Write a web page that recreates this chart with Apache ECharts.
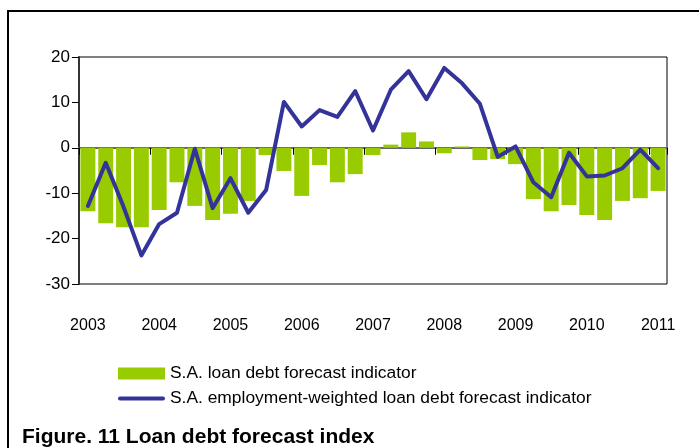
<!DOCTYPE html>
<html><head><meta charset="utf-8">
<script src="https://cdn.jsdelivr.net/npm/echarts@6/dist/echarts.min.js"></script>
<style>html,body{margin:0;padding:0;background:#fff}#c{width:699px;height:448px}</style>
</head><body><div id="c"></div>
<script>
var categories = ['2003Q1','2003Q2','2003Q3','2003Q4','2004Q1','2004Q2','2004Q3','2004Q4',
 '2005Q1','2005Q2','2005Q3','2005Q4','2006Q1','2006Q2','2006Q3','2006Q4',
 '2007Q1','2007Q2','2007Q3','2007Q4','2008Q1','2008Q2','2008Q3','2008Q4',
 '2009Q1','2009Q2','2009Q3','2009Q4','2010Q1','2010Q2','2010Q3','2010Q4','2011Q1'];
var loanDebt = [-14, -16.6, -17.5, -17.5, -13.7, -7.6, -12.8, -15.9,
 -14.5, -11.7, -1.6, -5.1, -10.6, -3.8, -7.6, -5.8,
 -1.6, 0.7, 3.4, 1.4, -1.2, 0.3, -2.7, -2.5,
 -3.6, -11.3, -14.0, -12.6, -14.8, -15.9, -11.7, -11.1, -9.5];
var employmentWeighted = [-12.8, -3.3, -13, -23.7, -16.8, -14.3, -0.2, -13.3,
 -6.7, -14.3, -9.3, 10.1, 4.7, 8.3, 6.8, 12.5,
 3.8, 12.8, 16.9, 10.7, 17.6, 14.2, 9.7, -2.0,
 0.3, -7.6, -10.9, -1.1, -6.3, -6.1, -4.5, -0.4, -4.5];
var yTicks = [-30, -20, -10, 0, 10, 20];
var seriesNames = ['S.A. loan debt forecast indicator', 'S.A. employment-weighted loan debt forecast indicator'];
var caption = 'Figure. 11 Loan debt forecast index';

var chart = echarts.init(document.getElementById('c'), null, {renderer:'canvas'});
chart.setOption({
  animation: false,
  backgroundColor: '#fff',
  grid: {left: 79, right: 32, top: 57, bottom: 164, show: true, borderColor: '#000', borderWidth: 1, backgroundColor: 'transparent'},
  legend: {
    orient: 'vertical', left: 118, top: 365, padding: 0, itemWidth: 47, itemHeight: 12, itemGap: 8,
    symbolKeepAspect: false,
    textStyle: {fontFamily: 'Liberation Sans', fontSize: 17.4, color: '#000'},
    data: [
      {name: seriesNames[0], icon: 'rect'},
      {name: seriesNames[1], icon: 'path://M0,0 M47,12 M2,4 L45,4 A2,2 0 0 1 45,8 L2,8 A2,2 0 0 1 2,4 Z',
       itemStyle: {color: '#333399'}}
    ]
  },
  xAxis: [{
    type: 'category', data: categories, position: 'bottom',
    axisLine: {onZero: true, lineStyle: {color: '#666', width: 2}},
    axisTick: {show: true, interval: 3, length: 7, lineStyle: {color: '#000', width: 1}},
    axisLabel: {show: false}, splitLine: {show: false}
  }, {
    type: 'category', data: categories, position: 'bottom',
    axisLine: {show: false, onZero: false}, axisTick: {show: false},
    axisLabel: {show: true, interval: 3, margin: 34, fontFamily: 'Liberation Sans', fontSize: 16, color: '#000',
      formatter: function(v){ return v.slice(0,4); }},
    splitLine: {show: false}
  }],
  yAxis: {
    type: 'value', min: yTicks[0], max: yTicks[yTicks.length-1], interval: 10,
    axisLine: {show: true, lineStyle: {color: '#333', width: 2}},
    axisTick: {show: true, length: 7, lineStyle: {color: '#000', width: 1}},
    axisLabel: {margin: 9, fontFamily: 'Liberation Sans', fontSize: 17, color: '#000'},
    splitLine: {show: false}
  },
  series: [{
    name: seriesNames[0], type: 'bar', data: loanDebt, barCategoryGap: '16%',
    itemStyle: {color: '#99CC00'}, z: 2
  }, {
    name: seriesNames[1], type: 'line', data: employmentWeighted, symbol: 'none', showSymbol: false,
    lineStyle: {color: '#333399', width: 4, cap: 'round', join: 'round'}, itemStyle: {color: '#333399'}, z: 3
  }],
  graphic: [{
    type: 'rect', shape: {x: 8, y: 11, width: 900, height: 900}, silent: true,
    style: {fill: 'none', stroke: '#000', lineWidth: 2}, z: 10
  }, {
    type: 'text', left: 22, top: 427, silent: true,
    style: {text: caption, font: 'bold 21px "Liberation Sans"', fill: '#000'}
  }]
});
</script></body></html>
